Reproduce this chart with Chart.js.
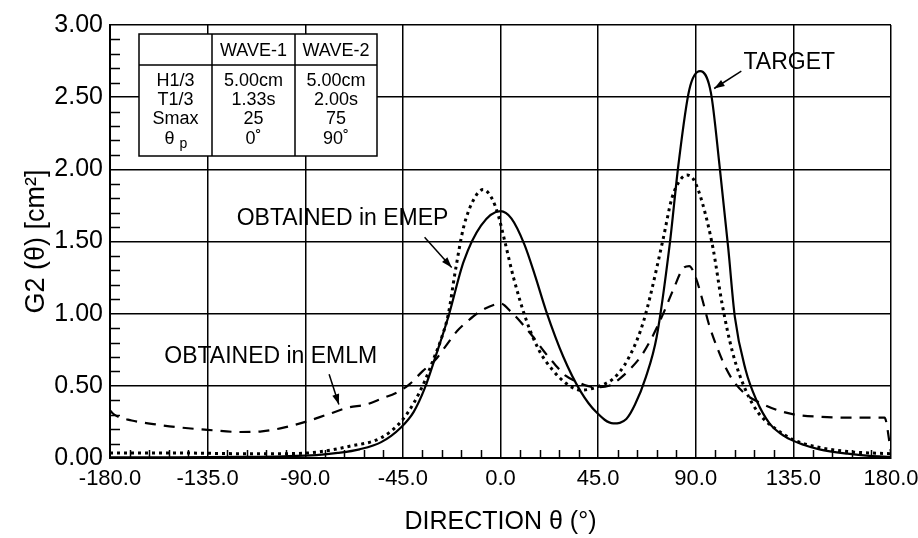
<!DOCTYPE html>
<html><head><meta charset="utf-8">
<script src="https://cdn.jsdelivr.net/npm/chart.js@4.4.0/dist/chart.umd.min.js"></script>
<style>html,body{margin:0;padding:0;background:#fff;}#wrap{position:relative;width:918px;height:538px;}</style>
</head><body><div id="wrap"><canvas id="c" width="918" height="538"></canvas></div>
<script>
// ---- data ----
const thetaTarget = [-180,-150,-120,-100,-85,-75,-65,-55,-46,-40,-35,-30,-24,-17,-9,0,5,11,16,21,29,37,44,52,58,62,67,72,78,82,87,92,97,101,105,108,113,118,124,131,140,147,160,170,180];
const target      = [0.005,0.005,0.008,0.012,0.02,0.035,0.06,0.11,0.21,0.32,0.48,0.70,0.98,1.36,1.61,1.71,1.66,1.48,1.26,1.02,0.70,0.46,0.32,0.24,0.27,0.37,0.56,0.84,1.48,2.03,2.55,2.68,2.53,2.02,1.45,0.98,0.61,0.40,0.24,0.15,0.09,0.06,0.03,0.015,0.008];

const thetaEMEP = [-180,-150,-120,-100,-85,-70,-55,-46,-40,-35,-31,-27,-24,-21,-17,-12,-8,-4,-1,2,6,12,18,24,30,37,44,52,57,60,63,66,69,75,79,83,86,89,93,98,102,107,113,119,127,136,148,160,170,180];
const emep      = [0.035,0.035,0.03,0.03,0.04,0.08,0.14,0.25,0.38,0.53,0.68,0.84,1.0,1.28,1.60,1.80,1.86,1.80,1.68,1.50,1.25,0.95,0.74,0.61,0.52,0.47,0.49,0.55,0.64,0.72,0.82,0.95,1.12,1.52,1.80,1.93,1.96,1.93,1.77,1.45,1.08,0.73,0.47,0.31,0.20,0.12,0.07,0.045,0.035,0.03];

const thetaEMLM = [-180,-178,-170,-160,-150,-135,-120,-110,-100,-90,-80,-70,-62,-55,-47,-42,-36,-30,-25,-20,-15,-10,-5,0,5,10,15,20,25,30,35,40,45,50,55,60,65,70,75,80,84,87,90,93,96,100,104,108,114,120,128,136,148,160,170,177,180];
const emlm      = [0.33,0.30,0.26,0.235,0.215,0.195,0.18,0.185,0.21,0.25,0.30,0.35,0.37,0.41,0.46,0.51,0.60,0.68,0.78,0.88,0.95,1.01,1.05,1.07,1.01,0.93,0.84,0.74,0.65,0.57,0.53,0.50,0.49,0.50,0.55,0.62,0.71,0.84,1.00,1.18,1.31,1.33,1.25,1.10,0.93,0.76,0.62,0.52,0.43,0.38,0.33,0.30,0.285,0.28,0.28,0.28,0.04];

const xTickValues = [-180,-135,-90,-45,0,45,90,135,180];
const yTickValues = [0,0.5,1,1.5,2,2.5,3];
const xTitle = 'DIRECTION \u03b8 (\u00b0)';
const yTitle = 'G2 (\u03b8) [cm\u00b2]';

const tableHeader = ['', 'WAVE-1', 'WAVE-2'];
const tableRowLabels = ['H1/3', 'T1/3', 'Smax', '\u03b8 p'];
const tableWave1 = ['5.00cm', '1.33s', '25', '0\u02da'];
const tableWave2 = ['5.00cm', '2.00s', '75', '90\u02da'];

const annoLabels = ['TARGET', 'OBTAINED in EMEP', 'OBTAINED in EMLM'];

// ---- helpers ----
const FONT = '"Liberation Sans", Arial, sans-serif';
const pts = (xs, ys) => xs.map((x, i) => ({x, y: ys[i]}));

const minorTicks = {
  id: 'minorTicks',
  afterDatasetsDraw(chart) {
    const {ctx, chartArea: ca, scales: {x, y}} = chart;
    ctx.save();
    ctx.strokeStyle = '#000';
    ctx.lineWidth = 1.5;
    ctx.beginPath();
    for (let i = 0; i <= 30; i++) {
      if (i % 5 === 0) continue;
      const py = Math.round(y.getPixelForValue(i / 10)) + 0.5;
      ctx.moveTo(ca.left, py); ctx.lineTo(ca.left + 10, py);
    }
    for (let v = -180; v <= 180; v += 9) {
      if (v % 45 === 0) continue;
      const px = Math.round(x.getPixelForValue(v)) + 0.5;
      ctx.moveTo(px, ca.bottom); ctx.lineTo(px, ca.bottom - 8);
    }
    ctx.stroke();
    ctx.restore();
  }
};

const tablePlugin = {
  id: 'waveTable',
  afterDraw(chart) {
    const {ctx, chartArea: ca} = chart;
    const L = ca.left + 29, T = ca.top + 9;
    const cols = [0, 73, 156, 238];
    const rowsY = [0, 31, 122];
    const textY = [17, 47, 66, 85, 105];
    ctx.save();
    ctx.fillStyle = '#fff';
    ctx.fillRect(L, T, cols[3], rowsY[2]);
    ctx.strokeStyle = '#000';
    ctx.lineWidth = 1.5;
    ctx.strokeRect(L, T, cols[3], rowsY[2]);
    ctx.beginPath();
    ctx.moveTo(L, T + rowsY[1]); ctx.lineTo(L + cols[3], T + rowsY[1]);
    ctx.moveTo(L + cols[1], T); ctx.lineTo(L + cols[1], T + rowsY[2]);
    ctx.moveTo(L + cols[2], T); ctx.lineTo(L + cols[2], T + rowsY[2]);
    ctx.stroke();
    ctx.fillStyle = '#000';
    const f = '18px ' + FONT;
    ctx.font = f;
    ctx.textAlign = 'center';
    ctx.textBaseline = 'middle';
    const cx = i => L + (cols[i] + cols[i + 1]) / 2;
    ctx.fillText(tableHeader[1], cx(1), T + textY[0]);
    ctx.fillText(tableHeader[2], cx(2), T + textY[0]);
    for (let r = 0; r < 4; r++) {
      const yy = T + textY[r + 1];
      if (r === 3) {
        const parts = tableRowLabels[r].split(' ');
        ctx.fillText(parts[0], cx(0) - 6, yy);
        ctx.font = '14px ' + FONT;
        ctx.fillText(parts[1], cx(0) + 8, yy + 5);
        ctx.font = f;
      } else {
        ctx.fillText(tableRowLabels[r], cx(0), yy);
      }
      ctx.fillText(tableWave1[r], cx(1), yy);
      ctx.fillText(tableWave2[r], cx(2), yy);
    }
    ctx.restore();
  }
};

function arrow(ctx, x1, y1, x2, y2) {
  ctx.beginPath(); ctx.moveTo(x1, y1); ctx.lineTo(x2, y2); ctx.stroke();
  const a = Math.atan2(y2 - y1, x2 - x1), h = 11, w = 0.33;
  ctx.beginPath();
  ctx.moveTo(x2, y2);
  ctx.lineTo(x2 - h * Math.cos(a - w), y2 - h * Math.sin(a - w));
  ctx.lineTo(x2 - h * Math.cos(a + w), y2 - h * Math.sin(a + w));
  ctx.closePath(); ctx.fill();
}

const annoPlugin = {
  id: 'annos',
  afterDraw(chart) {
    const {ctx, scales: {x, y}} = chart;
    ctx.save();
    ctx.fillStyle = '#000'; ctx.strokeStyle = '#000'; ctx.lineWidth = 1.5;
    ctx.font = '23px ' + FONT;
    ctx.textBaseline = 'middle';
    // TARGET
    ctx.textAlign = 'left';
    ctx.fillText(annoLabels[0], x.getPixelForValue(112), y.getPixelForValue(2.74));
    arrow(ctx, x.getPixelForValue(111), y.getPixelForValue(2.68), x.getPixelForValue(98.5), y.getPixelForValue(2.56));
    // EMEP
    ctx.textAlign = 'right';
    ctx.fillText(annoLabels[1], x.getPixelForValue(-24), y.getPixelForValue(1.66));
    arrow(ctx, x.getPixelForValue(-35), y.getPixelForValue(1.53), x.getPixelForValue(-22.5), y.getPixelForValue(1.32));
    // EMLM
    ctx.textAlign = 'left';
    ctx.fillText(annoLabels[2], x.getPixelForValue(-155), y.getPixelForValue(0.70));
    arrow(ctx, x.getPixelForValue(-79), y.getPixelForValue(0.58), x.getPixelForValue(-74.5), y.getPixelForValue(0.37));
    ctx.restore();
  }
};

new Chart(document.getElementById('c'), {
  type: 'line',
  data: {
    datasets: [
      {label: 'TARGET', data: pts(thetaTarget, target), borderColor: '#000', borderWidth: 2.2, pointRadius: 0, cubicInterpolationMode: 'monotone', fill: false},
      {label: 'EMEP', data: pts(thetaEMEP, emep), borderColor: '#000', borderWidth: 3, borderDash: [3, 4], pointRadius: 0, cubicInterpolationMode: 'monotone', fill: false},
      {label: 'EMLM', data: pts(thetaEMLM, emlm), borderColor: '#000', borderWidth: 2.2, borderDash: [11, 8], pointRadius: 0, cubicInterpolationMode: 'monotone', fill: false}
    ]
  },
  options: {
    responsive: false, animation: false, devicePixelRatio: 1,
    layout: {padding: {top: 25, right: 27, left: 0, bottom: 0}},
    plugins: {legend: {display: false}, tooltip: {enabled: false}},
    scales: {
      x: {
        type: 'linear', min: -180, max: 180,
        afterBuildTicks: s => { s.ticks = xTickValues.map(v => ({value: v})); },
        afterFit: s => { s.height = 80; s.paddingLeft = 0; s.paddingRight = 0; },
        ticks: {color: '#000', font: {family: FONT, size: 22}, padding: 8, maxRotation: 0, autoSkip: false, callback: v => v.toFixed(1)},
        grid: {color: '#000', lineWidth: 1.5, drawTicks: false},
        border: {color: '#000', width: 2},
        title: {display: true, text: xTitle, color: '#000', font: {family: FONT, size: 25}, padding: {top: 0, bottom: 1}}
      },
      y: {
        min: 0, max: 3,
        afterBuildTicks: s => { s.ticks = yTickValues.map(v => ({value: v})); },
        afterFit: s => { s.width = 110; s.paddingTop = 0; s.paddingBottom = 0; },
        ticks: {color: '#000', font: {family: FONT, size: 25}, padding: 7, callback: v => v.toFixed(2)},
        grid: {color: '#000', lineWidth: 1.5, drawTicks: false},
        border: {color: '#000', width: 2},
        title: {display: true, text: yTitle, color: '#000', font: {family: FONT, size: 27}, padding: {top: 20, bottom: 0}}
      }
    }
  },
  plugins: [minorTicks, tablePlugin, annoPlugin]
});
</script></body></html>
